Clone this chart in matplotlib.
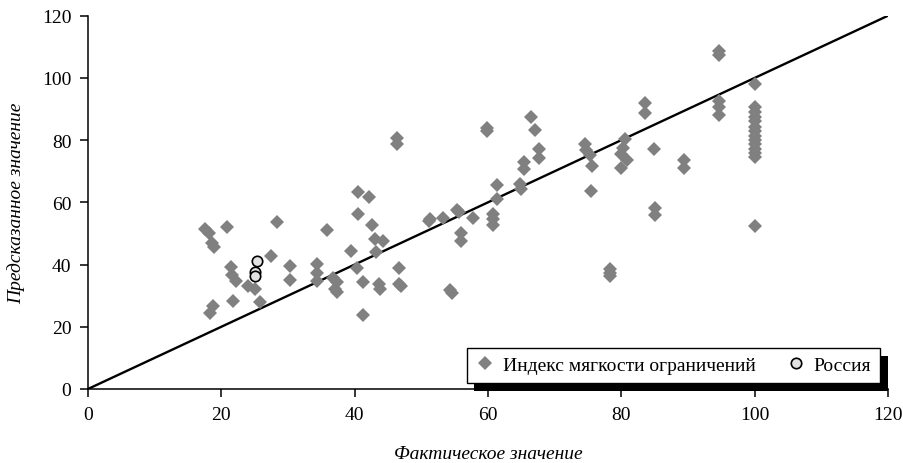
import numpy as np
import matplotlib
matplotlib.use("Agg")
import matplotlib.pyplot as plt
import matplotlib.patheffects as pe

plt.rcParams['font.family'] = ['Liberation Serif', 'DejaVu Serif']

# index of restriction softness: actual vs predicted
actual = [
    17.6, 18.2, 20.9, 28.4, 18.6, 18.9, 27.4, 21.4, 21.6, 22.2, 24.0, 25.0,
    21.8, 25.8, 18.8, 18.3, 30.3, 30.3,
    34.3, 34.3, 34.3, 36.8, 37.3, 37.0, 37.3, 39.4, 40.3, 41.2, 43.7, 43.8,
    46.7, 46.7, 47.0, 41.2, 43.2, 43.0, 44.3,
    46.3, 46.3, 40.5, 42.1, 40.5, 35.9, 42.6, 54.3, 54.6, 51.3, 51.1, 53.2,
    55.3, 55.6, 57.7, 55.9, 55.9, 59.8, 59.8, 61.4, 61.4, 60.8, 60.8, 60.8,
    64.8, 64.9, 65.4, 65.4, 67.6, 67.6, 67.1, 66.5,
    74.6, 74.7, 75.3, 75.6, 75.4, 80.6, 80.3, 79.9, 80.8, 79.9,
    83.5, 83.5, 84.9, 89.4, 89.4, 85.1, 85.1, 78.3, 78.3, 78.3,
    94.6, 94.6, 94.6, 94.6, 94.6,
    100, 100, 100, 100, 100, 100, 100, 100, 100, 100, 100, 100, 100, 100,
]
predicted = [
    51.5, 50.2, 52.0, 53.8, 47.0, 45.8, 42.8, 39.1, 36.6, 34.8, 33.0, 32.1,
    28.4, 27.9, 26.8, 24.4, 39.6, 35.1,
    40.2, 37.2, 34.8, 35.6, 34.3, 32.1, 31.3, 44.4, 38.8, 34.3, 33.8, 32.1,
    38.8, 33.8, 33.2, 23.8, 44.1, 48.2, 47.7,
    80.6, 78.8, 63.2, 61.8, 56.3, 51.0, 52.7, 31.9, 30.8, 54.8, 54.1, 55.0,
    57.5, 56.8, 55.0, 50.0, 47.6, 83.8, 83.0, 65.5, 61.2, 56.3, 54.7, 52.8,
    65.9, 64.3, 72.9, 70.6, 77.1, 74.2, 83.1, 87.3,
    78.8, 76.7, 75.3, 71.6, 63.6, 80.4, 77.6, 75.4, 73.6, 71.2,
    91.9, 88.6, 77.3, 73.6, 71.1, 58.1, 55.9, 38.5, 37.4, 36.3,
    108.6, 107.4, 92.7, 90.5, 88.2,
    98.0, 90.5, 89.0, 87.4, 86.0, 84.3, 83.0, 81.4, 80.0, 78.6, 77.2, 75.8, 74.5, 52.3,
]

russia_actual = [25.3, 25.0, 25.0]
russia_predicted = [41.3, 37.7, 36.2]

diag = [0, 120]
ticks = [0, 20, 40, 60, 80, 100, 120]

fig = plt.figure(figsize=(9.04, 4.64), dpi=100)
ax = fig.add_axes([0.0973, 0.1595, 0.885, 0.8045])

ax.plot(diag, diag, color='black', lw=1.7, zorder=2)
ax.plot(actual, predicted, linestyle='none', marker='D', markersize=7.3,
        color='#808080', markeredgewidth=0, label='Индекс мягкости ограничений', zorder=3)
ax.plot(russia_actual, russia_predicted, linestyle='none', marker='o', markersize=7.5,
        markerfacecolor='#e2e2e2', markeredgecolor='black', markeredgewidth=1.2,
        label='Россия', zorder=4)

ax.set_xlim(0, 120)
ax.set_ylim(0, 120)
ax.set_xticks(ticks)
ax.set_yticks(ticks)
for s in ['top', 'right']:
    ax.spines[s].set_visible(False)
for s in ['left', 'bottom']:
    ax.spines[s].set_linewidth(1.1)
ax.tick_params(direction='out', length=6, width=1.1, labelsize=14, pad=6)
ax.set_xlabel('Фактическое значение', fontsize=14, style='italic', labelpad=16)
ax.set_ylabel('Предсказанное значение', fontsize=14, style='italic', labelpad=12)

leg = ax.legend(loc='lower right', bbox_to_anchor=(0.99, 0.016), borderaxespad=0,
                ncol=2, fontsize=14, frameon=True, fancybox=False, handletextpad=0.4,
                columnspacing=1.6, handlelength=1.0, borderpad=0.45)
frame = leg.get_frame()
frame.set_edgecolor('black')
frame.set_linewidth(1.0)
frame.set_alpha(1)
frame.set_path_effects([pe.SimplePatchShadow(offset=(5.5, -6), shadow_rgbFace='black', alpha=1.0),
                        pe.Normal()])

fig.savefig('out.png', dpi=100)
